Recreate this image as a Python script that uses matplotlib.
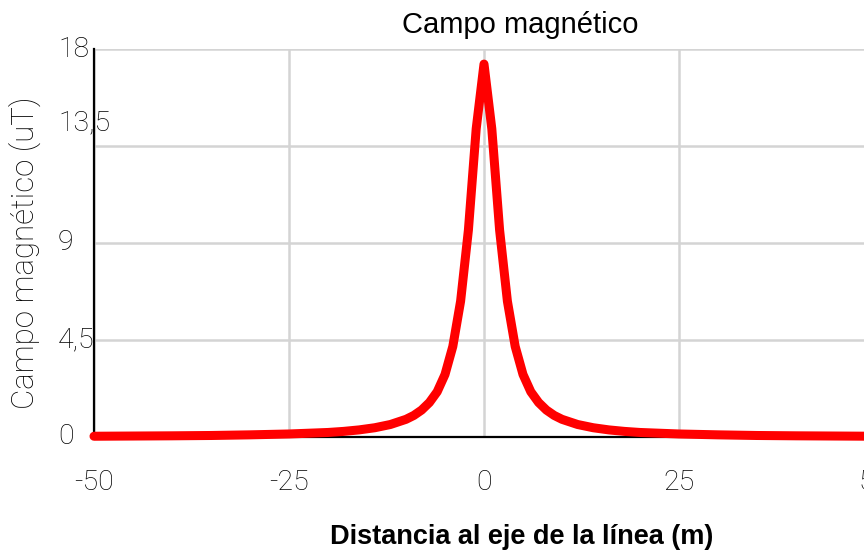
import matplotlib
matplotlib.use('Agg')
import matplotlib.pyplot as plt
from matplotlib.transforms import offset_copy

# Distance from line axis (m) and magnetic field (uT)
distance = [-50, -45, -40, -35, -30, -25, -20, -18, -16, -14, -12, -10, -9, -8, -7, -6, -5, -4, -3, -2, -1,
            0, 1, 2, 3, 4, 5, 6, 7, 8, 9, 10, 12, 14, 16, 18, 20, 25, 30, 35, 40, 45, 50]
campo = [0.035, 0.045, 0.055, 0.07, 0.10, 0.14, 0.21, 0.26, 0.33, 0.43, 0.58, 0.82, 1.0, 1.25, 1.6, 2.1, 2.9, 4.2, 6.3, 9.6, 14.3,
         17.3, 14.3, 9.6, 6.3, 4.2, 2.9, 2.1, 1.6, 1.25, 1.0, 0.82, 0.58, 0.43, 0.33, 0.26, 0.21, 0.14, 0.10, 0.07, 0.055, 0.045, 0.035]

x_ticks = [-50, -25, 0, 25, 50]
x_labels = ['-50', '-25', '0', '25', '50']
y_ticks = [0, 4.5, 9, 13.5, 18]
y_labels = ['0', '4,5', '9', '13,5', '18']

fig = plt.figure(figsize=(8.64, 5.54), dpi=100)
ax = fig.add_axes([94 / 864, 117 / 554, 780 / 864, 388 / 554])

ax.plot(distance, campo, color='#ff0000', linewidth=6.5, solid_joinstyle='round',
        solid_capstyle='round', clip_on=False, zorder=3)

ax.set_xlim(-50, 50)
ax.set_ylim(0, 18)

ax.set_xticks(x_ticks)
ax.set_xticklabels(x_labels, fontsize=20.5, family='Roboto', fontweight='light', color='black')
ax.tick_params(axis='x', length=0, pad=23)

ax.set_yticks(y_ticks)
ax.set_yticklabels([])
ax.tick_params(axis='y', length=0)
ytrans = offset_copy(ax.get_yaxis_transform(), fig=fig, x=-36, y=0, units='dots')
for val, lab in zip(y_ticks, y_labels):
    # the 13,5 label sits above its grid line in the original
    dy = 23 if lab == '13,5' else 0
    t = offset_copy(ytrans, fig=fig, x=0, y=dy, units='dots')
    ax.text(0, val, lab, transform=t, ha='left', va='center', fontsize=20.5,
            family='Roboto', fontweight='light', color='black')

ax.grid(True, color='#d4d4d4', linewidth=1.8)
ax.set_axisbelow(True)
for s in ['top', 'right']:
    ax.spines[s].set_visible(False)
for s in ['left', 'bottom']:
    ax.spines[s].set_color('black')
    ax.spines[s].set_linewidth(1.6)
    ax.spines[s].set_zorder(2)

fig.text(520 / 864, 1 - 25 / 554, 'Campo magnético', ha='center', va='center',
         fontsize=21, family='Liberation Sans', color='black')
fig.text(25 / 864, 1 - 253 / 554, 'Campo magnético (uT)', rotation=90, ha='center', va='center',
         fontsize=22.5, family='Roboto', fontweight='light', color='black')
fig.text(522 / 864, 1 - 537 / 554, 'Distancia al eje de la línea (m)', ha='center', va='center',
         fontsize=19.5, family='Liberation Sans', fontweight='bold', color='black')

fig.savefig('out.png', dpi=100)
